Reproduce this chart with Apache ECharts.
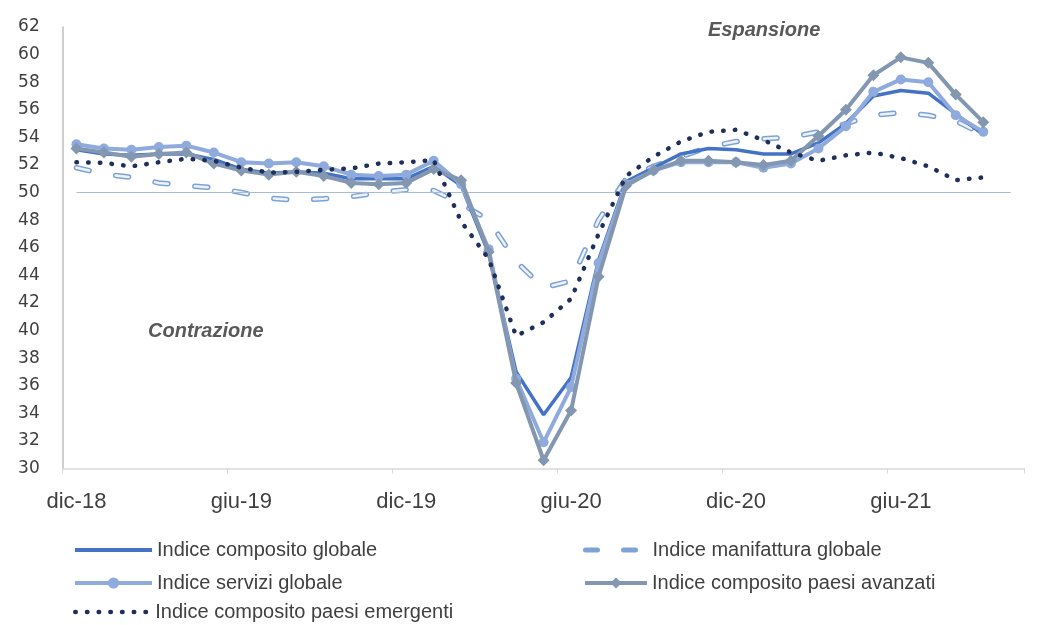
<!DOCTYPE html>
<html>
<head>
<meta charset="utf-8">
<script src="https://cdn.jsdelivr.net/npm/echarts@6/dist/echarts.min.js"></script>
<style>
  html, body { margin: 0; padding: 0; background: #ffffff; }
  #chart { width: 1040px; height: 625px; }
</style>
</head>
<body>
<div id="chart"></div>
<script>
// Months (Dec 2018 – Oct 2021)
const categories = [
  'dic-18','gen-19','feb-19','mar-19','apr-19','mag-19','giu-19','lug-19','ago-19','set-19','ott-19','nov-19',
  'dic-19','gen-20','feb-20','mar-20','apr-20','mag-20','giu-20','lug-20','ago-20','set-20','ott-20','nov-20',
  'dic-20','gen-21','feb-21','mar-21','apr-21','mag-21','giu-21','lug-21','ago-21','set-21','ott-21'
];

const compositoGlobale = [53.1, 52.8, 52.7, 52.8, 52.8, 52.4, 51.7, 51.4, 51.5, 51.4, 51.0, 51.0, 51.0, 51.9,
  50.5, 45.6, 37.0, 33.9, 36.6, 45.1, 50.8, 51.8, 52.8, 53.2, 53.1, 52.8, 52.8, 53.6, 55.0, 57.0, 57.4, 57.2, 55.7, 54.2];

const manifatturaGlobale = [51.8, 51.35, 51.1, 50.7, 50.5, 50.35, 50.0, 49.6, 49.45, 49.55, 49.7, 50.0, 50.2, 50.15,
  49.2, 48.0, 45.0, 43.1, 43.6, 48.0, 51.0, 51.9, 52.6, 53.3, 53.7, 53.9, 54.0, 54.4, 55.0, 55.6, 55.8, 55.6, 55.2, 54.2];

const serviziGlobale = [53.5, 53.2, 53.1, 53.3, 53.4, 52.9, 52.2, 52.1, 52.2, 51.9, 51.3, 51.2, 51.3, 52.3,
  50.6, 45.9, 36.5, 31.9, 35.9, 44.9, 50.6, 51.6, 52.2, 52.2, 52.2, 51.8, 52.1, 53.2, 54.8, 57.3, 58.2, 58.0, 55.6, 54.4];

const compositoAvanzati = [53.2, 52.9, 52.6, 52.8, 52.9, 52.1, 51.6, 51.3, 51.5, 51.2, 50.7, 50.6, 50.7, 51.7,
  50.9, 45.7, 36.2, 30.6, 34.2, 43.9, 50.5, 51.6, 52.3, 52.3, 52.2, 52.0, 52.3, 54.1, 56.0, 58.5, 59.8, 59.4, 57.1, 55.1];

const compositoEmergenti = [52.2, 52.15, 51.9, 52.2, 52.45, 52.3, 51.8, 51.45, 51.5, 51.65, 51.75, 52.1, 52.2, 52.35,
  47.9, 45.2, 39.6, 40.6, 42.3, 47.0, 51.2, 52.6, 53.7, 54.4, 54.55, 53.8, 52.9, 52.3, 52.7, 52.9, 52.5, 51.9, 50.9, 51.1];

const soglia = 50;
const yTicks = { min: 30, max: 62, step: 2 };

const names = [
  'Indice composito globale',
  'Indice manifattura globale',
  'Indice servizi globale',
  'Indice composito paesi avanzati',
  'Indice composito paesi emergenti'
];

const textColor = '#404040';
const legendFont = { fontFamily: 'Liberation Sans', fontSize: 20, color: textColor };

function legendAt(name, left, top, w, hideSymbol, lineStyle) {
  const l = {
    data: [name], left: left, top: top, padding: 0,
    itemWidth: w, itemHeight: 14, textStyle: legendFont,
    selectedMode: false, lineStyle: lineStyle
  };
  if (hideSymbol) l.itemStyle = { opacity: 0, borderWidth: 0 };
  return l;
}

const chart = echarts.init(document.getElementById('chart'), null, { renderer: 'canvas' });
chart.setOption({
  animation: false,
  backgroundColor: '#ffffff',
  grid: { left: 62.7, right: 15.5, top: 27, bottom: 156.5, containLabel: false },
  xAxis: {
    type: 'category',
    data: categories,
    boundaryGap: true,
    axisLine: { lineStyle: { color: '#D9D9D9', width: 1.5 } },
    axisTick: { show: true, interval: 5, length: 5, lineStyle: { color: '#D9D9D9' } },
    axisLabel: { interval: 5, margin: 22, fontFamily: 'Liberation Sans', fontSize: 22, color: textColor }
  },
  yAxis: {
    type: 'value',
    min: yTicks.min, max: yTicks.max, interval: yTicks.step,
    splitLine: { show: false },
    axisTick: { show: false },
    axisLine: { show: true, lineStyle: { color: '#BFBFBF', width: 1.5 } },
    axisLabel: { margin: 23, fontFamily: 'DejaVu Sans', fontSize: 17, color: textColor }
  },
  legend: [
    legendAt(names[0], 73, 540, 77, true, { width: 4 }),
    legendAt(names[1], 583, 540, 62, true, { width: 5, type: [12, 26], cap: 'round' }),
    legendAt(names[2], 73, 573, 77, false, { width: 4 }),
    legendAt(names[3], 583, 573, 62, false, { width: 4 }),
    legendAt(names[4], 73, 602, 75, true, { width: 4.5, type: [0.5, 11.2], cap: 'round' })
  ],
  graphic: [
    { type: 'text', left: 708, top: 20, style: { text: 'Espansione', font: 'italic bold 20px "Liberation Sans"', fill: '#595959' } },
    { type: 'text', left: 148, top: 321, style: { text: 'Contrazione', font: 'italic bold 20px "Liberation Sans"', fill: '#595959' } }
  ],
  series: [
    {
      name: names[0], type: 'line', data: compositoGlobale, symbol: 'none', z: 3,
      lineStyle: { color: '#4472C4', width: 3.5 }, itemStyle: { color: '#4472C4' },
      markLine: {
        silent: true, symbol: 'none', label: { show: false },
        lineStyle: { color: '#A9BCD6', width: 1.2, type: 'solid' },
        data: [[{ coord: [categories[0], soglia] }, { coord: [categories[categories.length - 1], soglia] }]]
      }
    },
    {
      name: names[1], type: 'line', data: manifatturaGlobale, symbol: 'none', z: 2,
      lineStyle: { color: '#7FA2D6', width: 5.5, type: [13, 27], cap: 'round' }, itemStyle: { color: '#7FA2D6' }
    },
    {
      name: 'manifattura-interno', type: 'line', data: manifatturaGlobale, symbol: 'none', z: 2,
      lineStyle: { color: '#EEF3FB', width: 2.5, type: [13, 27], cap: 'round' }, itemStyle: { color: '#EEF3FB' },
      tooltip: { show: false }
    },
    {
      name: names[2], type: 'line', data: serviziGlobale, symbol: 'circle', symbolSize: 10, z: 4,
      lineStyle: { color: '#8FAADC', width: 4 }, itemStyle: { color: '#8FAADC' }
    },
    {
      name: names[3], type: 'line', data: compositoAvanzati, symbol: 'diamond', symbolSize: 12, z: 5,
      lineStyle: { color: '#8497B0', width: 4 }, itemStyle: { color: '#8497B0' }
    },
    {
      name: names[4], type: 'line', data: compositoEmergenti, symbol: 'none', z: 6,
      lineStyle: { color: '#1F2F5C', width: 4.5, type: [0.5, 11.2], cap: 'round' }, itemStyle: { color: '#1F2F5C' }
    }
  ]
});
</script>
</body>
</html>
